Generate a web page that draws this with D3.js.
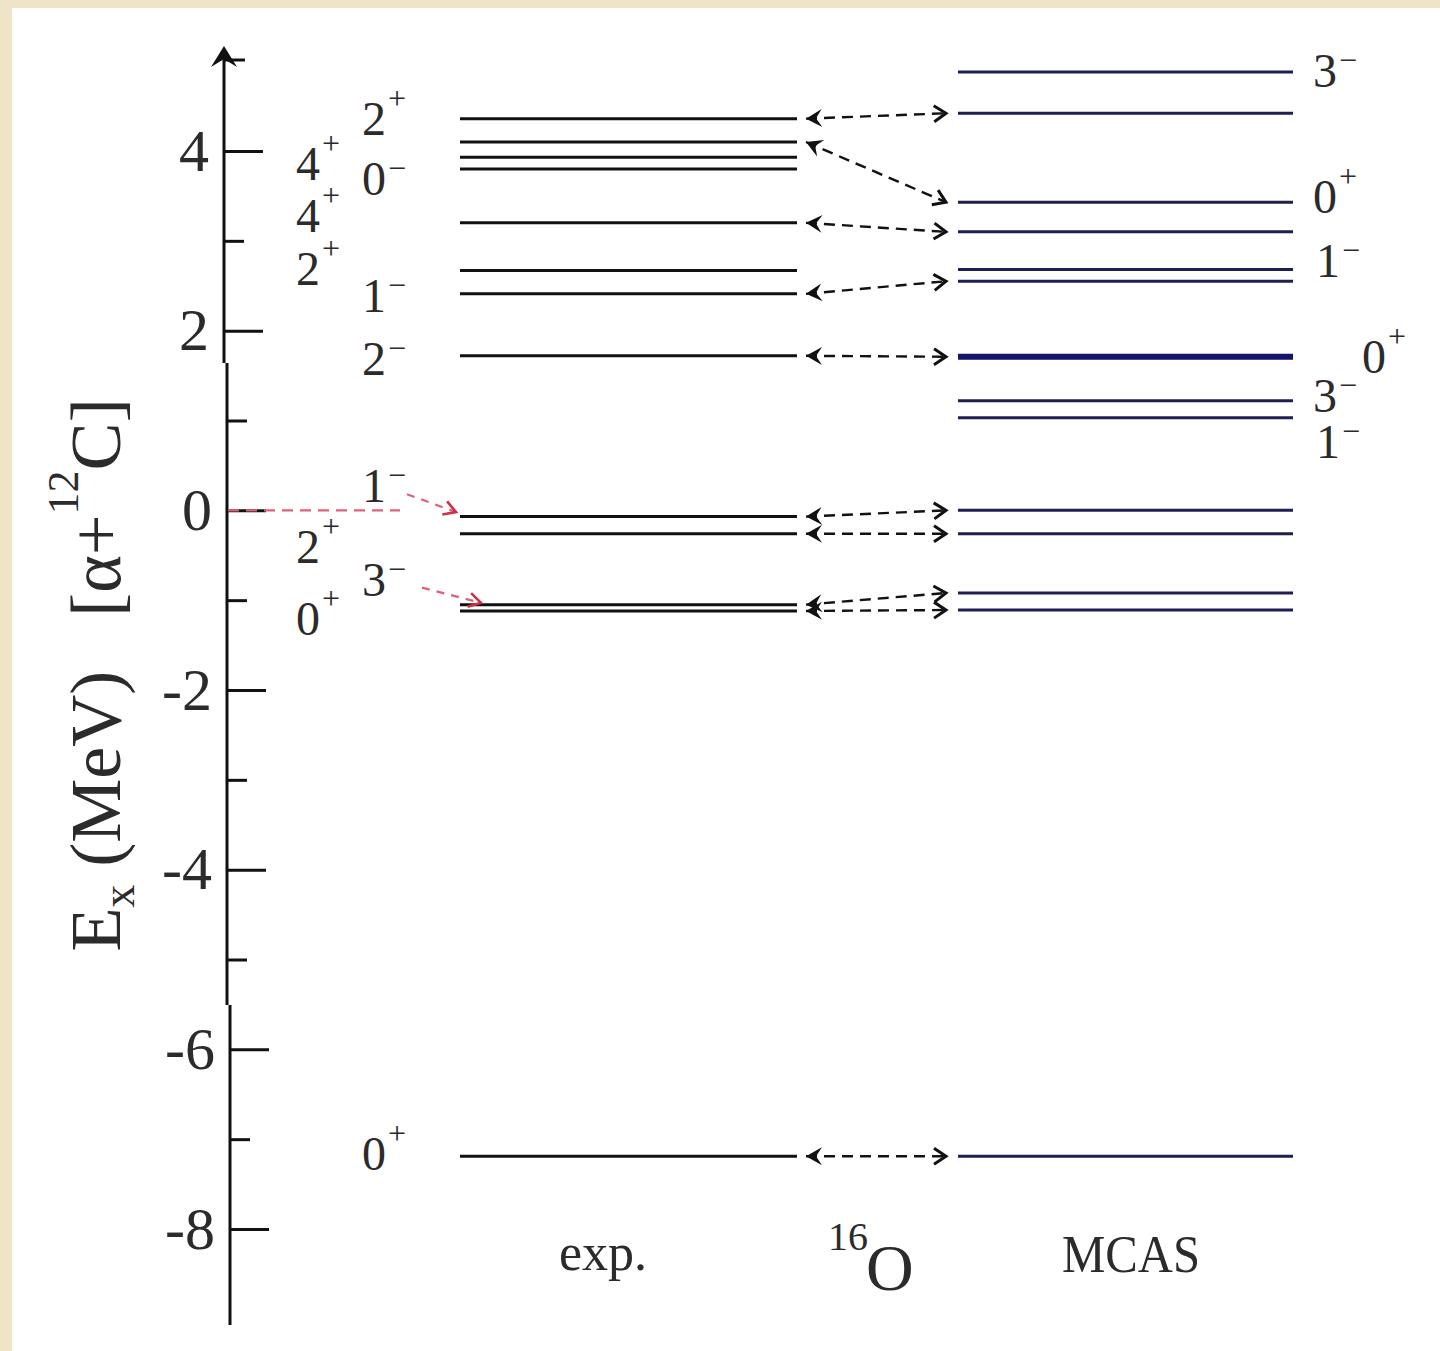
<!DOCTYPE html>
<html>
<head>
<meta charset="utf-8">
<script src="https://cdn.jsdelivr.net/npm/d3@7"></script>
<style>
body { margin: 0; background: #efe4c7; }
text { font-family: "Liberation Serif", "DejaVu Serif", serif; fill: #2b2b2b; }
</style>
</head>
<body>
<script>
// level energies, MeV above the alpha+12C threshold
const expLevels  = [4.36, 4.10, 3.93, 3.80, 3.20, 2.67, 2.41, 1.72, -0.07, -0.26, -1.05, -1.12, -7.19];
const mcasLevels = [4.88, 4.42, 3.43, 3.10, 2.68, 2.55, 1.71, 1.22, 1.03, 0.00, -0.26, -0.92, -1.11, -7.19];
const mcasThick  = [1.71];

// spin-parity labels (energy = where the label sits)
const expSpin    = ["2", "4", "0", "4", "2", "1", "2", "1", "2", "3", "0", "0"];
const expParity  = ["+", "+", "−", "+", "+", "−", "−", "−", "+", "−", "+", "+"];
const expLabelE  = [4.36, 3.86, 3.69, 3.28, 2.69, 2.39, 1.69, 0.27, -0.41, -0.78, -1.21, -7.16];
const mcasSpin   = ["3", "0", "1", "0", "3", "1"];
const mcasParity = ["−", "+", "−", "+", "−", "−"];
const mcasLabelE = [4.89, 3.49, 2.78, 1.71, 1.27, 0.76];

// exp level -> MCAS level correspondences
const links = [[4.36, 4.42], [4.10, 3.43], [3.20, 3.10], [2.41, 2.55], [1.72, 1.71],
               [-0.07, 0.00], [-0.26, -0.26], [-1.05, -0.92], [-1.12, -1.11], [-7.19, -7.19]];
// red arrows: start energy -> exp level
const redLinks = [[0.18, -0.02], [-0.86, -1.03]];
const threshold = 0;

const majorTicks = [4, 2, 0, -2, -4, -6, -8];
const minorTicks = [3, 1, -1, -3, -5, -7];
const columnNames = ["exp.", "16", "O", "MCAS"];

// ---- layout
const W = 1440, H = 1351;
const expX = [460, 797], mcasX = [958, 1293], linkX = [806, 946];
const expCol = [362, 296, 362, 296, 296, 362, 362, 362, 296, 362, 296, 362];
const mcasCol = [1313, 1313, 1316, 1362, 1313, 1316];

const svg = d3.select("body").append("svg").attr("width", W).attr("height", H);
svg.append("rect").attr("width", W).attr("height", H).attr("fill", "#efe4c7");
svg.append("rect").attr("x", 12).attr("y", 8).attr("width", W - 12).attr("height", H - 8).attr("fill", "#fff");

const y = d3.scaleLinear().domain([-8, 4]).range([1229, 151]);

const defs = svg.append("defs");
defs.append("marker").attr("id", "hl").attr("viewBox", "0 -10 18 20").attr("refX", 17).attr("refY", 0)
    .attr("markerUnits", "userSpaceOnUse").attr("markerWidth", 18).attr("markerHeight", 20)
    .attr("orient", "auto-start-reverse")
  .append("path").attr("d", "M1,-9 L17,0 L1,9 L7,0 Z").attr("fill", "#111");
defs.append("marker").attr("id", "hr").attr("viewBox", "0 -10 18 20").attr("refX", 15).attr("refY", 0)
    .attr("markerUnits", "userSpaceOnUse").attr("markerWidth", 18).attr("markerHeight", 20)
    .attr("orient", "auto")
  .append("path").attr("d", "M3,-8 L15,0 L3,8").attr("fill", "none").attr("stroke", "#111").attr("stroke-width", 3);
defs.append("marker").attr("id", "hred").attr("viewBox", "0 -10 18 20").attr("refX", 15).attr("refY", 0)
    .attr("markerUnits", "userSpaceOnUse").attr("markerWidth", 18).attr("markerHeight", 20)
    .attr("orient", "auto")
  .append("path").attr("d", "M3,-7 L15,0 L3,7").attr("fill", "none").attr("stroke", "#c8324a").attr("stroke-width", 2.6);

// ---- axis (drawn in three slightly offset pieces like the scan)
const segs = [{x: 224, top: 50, bottom: 363}, {x: 227, top: 363, bottom: 1005}, {x: 230, top: 1005, bottom: 1325}];
segs.forEach(s => {
  const inSeg = t => y(t) >= s.top && y(t) < s.bottom;
  svg.append("line").attr("x1", s.x).attr("x2", s.x).attr("y1", s.top).attr("y2", s.bottom)
     .attr("stroke", "#111").attr("stroke-width", 3);
  const gMaj = svg.append("g").attr("transform", `translate(${s.x},0)`)
     .call(d3.axisLeft(y).tickValues(majorTicks.filter(inSeg)).tickSize(-39).tickPadding(15).tickFormat(d => String(d)));
  gMaj.select(".domain").remove();
  gMaj.attr("font-size", 60).attr("font-family", null);
  gMaj.selectAll("line").attr("stroke", "#111").attr("stroke-width", 3);
  gMaj.selectAll("text").attr("fill", "#383838");
  const gMin = svg.append("g").attr("transform", `translate(${s.x},0)`)
     .call(d3.axisLeft(y).tickValues(minorTicks.filter(inSeg)).tickSize(-20).tickFormat(""));
  gMin.select(".domain").remove();
  gMin.selectAll("line").attr("stroke", "#111").attr("stroke-width", 3);
});
svg.append("path").attr("d", "M224,46 L211,67 L224,59 L237,67 Z").attr("fill", "#111");
svg.append("line").attr("x1", 224).attr("x2", 245).attr("y1", 60).attr("y2", 60).attr("stroke", "#111").attr("stroke-width", 3);

// ---- y label
const yl = svg.append("text").attr("transform", "translate(120,675) rotate(-90)")
    .attr("text-anchor", "middle").attr("font-size", 72).attr("fill", "#333");
yl.append("tspan").text("E");
yl.append("tspan").attr("font-size", 46).attr("dy", 14).text("x");
yl.append("tspan").attr("dy", -14).text("\u00a0(MeV)\u00a0\u00a0\u00a0[α+");
yl.append("tspan").attr("font-size", 44).attr("dy", -42).text("12");
yl.append("tspan").attr("dy", 42).text("C]");

// ---- levels
svg.selectAll(".exp").data(expLevels).join("line").attr("class", "exp")
   .attr("x1", expX[0]).attr("x2", expX[1]).attr("y1", d => y(d)).attr("y2", d => y(d))
   .attr("stroke", "#111").attr("stroke-width", 3);
svg.selectAll(".mcas").data(mcasLevels).join("line").attr("class", "mcas")
   .attr("x1", mcasX[0]).attr("x2", mcasX[1]).attr("y1", d => y(d)).attr("y2", d => y(d))
   .attr("stroke", d => mcasThick.includes(d) ? "#14146a" : "#1e1e52")
   .attr("stroke-width", d => mcasThick.includes(d) ? 6 : 3);

// ---- links
svg.selectAll(".link").data(links).join("line").attr("class", "link")
   .attr("x1", linkX[0]).attr("x2", linkX[1]).attr("y1", d => y(d[0])).attr("y2", d => y(d[1]))
   .attr("stroke", "#111").attr("stroke-width", 2.4).attr("stroke-dasharray", "11 7")
   .attr("marker-start", "url(#hl)").attr("marker-end", "url(#hr)");

// red threshold arrows
svg.append("line").attr("x1", 228).attr("x2", 400).attr("y1", y(threshold)).attr("y2", y(threshold))
   .attr("stroke", "#e0607a").attr("stroke-width", 2.2).attr("stroke-dasharray", "11 7");
const redX = [[407, 456], [422, 481]];
svg.selectAll(".red").data(redLinks).join("line").attr("class", "red")
   .attr("x1", (d, i) => redX[i][0]).attr("x2", (d, i) => redX[i][1])
   .attr("y1", d => y(d[0])).attr("y2", d => y(d[1]))
   .attr("stroke", "#e0607a").attr("stroke-width", 2.2).attr("stroke-dasharray", "8 7")
   .attr("marker-end", "url(#hred)");

// ---- spin labels
function spinLabel(x, e, j, p) {
  const t = svg.append("text").attr("x", x).attr("y", y(e) + 16).attr("font-size", 48);
  t.append("tspan").text(j);
  t.append("tspan").attr("font-size", 32).attr("dx", 2).attr("dy", p == "+" ? -26 : -16).text(p);
}
expSpin.forEach((j, i) => spinLabel(expCol[i], expLabelE[i], j, expParity[i]));
mcasSpin.forEach((j, i) => spinLabel(mcasCol[i], mcasLabelE[i], j, mcasParity[i]));

// ---- column names
svg.append("text").attr("x", 603).attr("y", 1270).attr("text-anchor", "middle").attr("font-size", 52).text(columnNames[0]);
svg.append("text").attr("x", 828).attr("y", 1250).attr("font-size", 40).text(columnNames[1]);
svg.append("text").attr("x", 866).attr("y", 1290).attr("font-size", 66).text(columnNames[2]);
svg.append("text").attr("x", 1131).attr("y", 1272).attr("text-anchor", "middle").attr("font-size", 52)
   .attr("textLength", 138).attr("lengthAdjust", "spacingAndGlyphs").text(columnNames[3]);
</script>
</body>
</html>
